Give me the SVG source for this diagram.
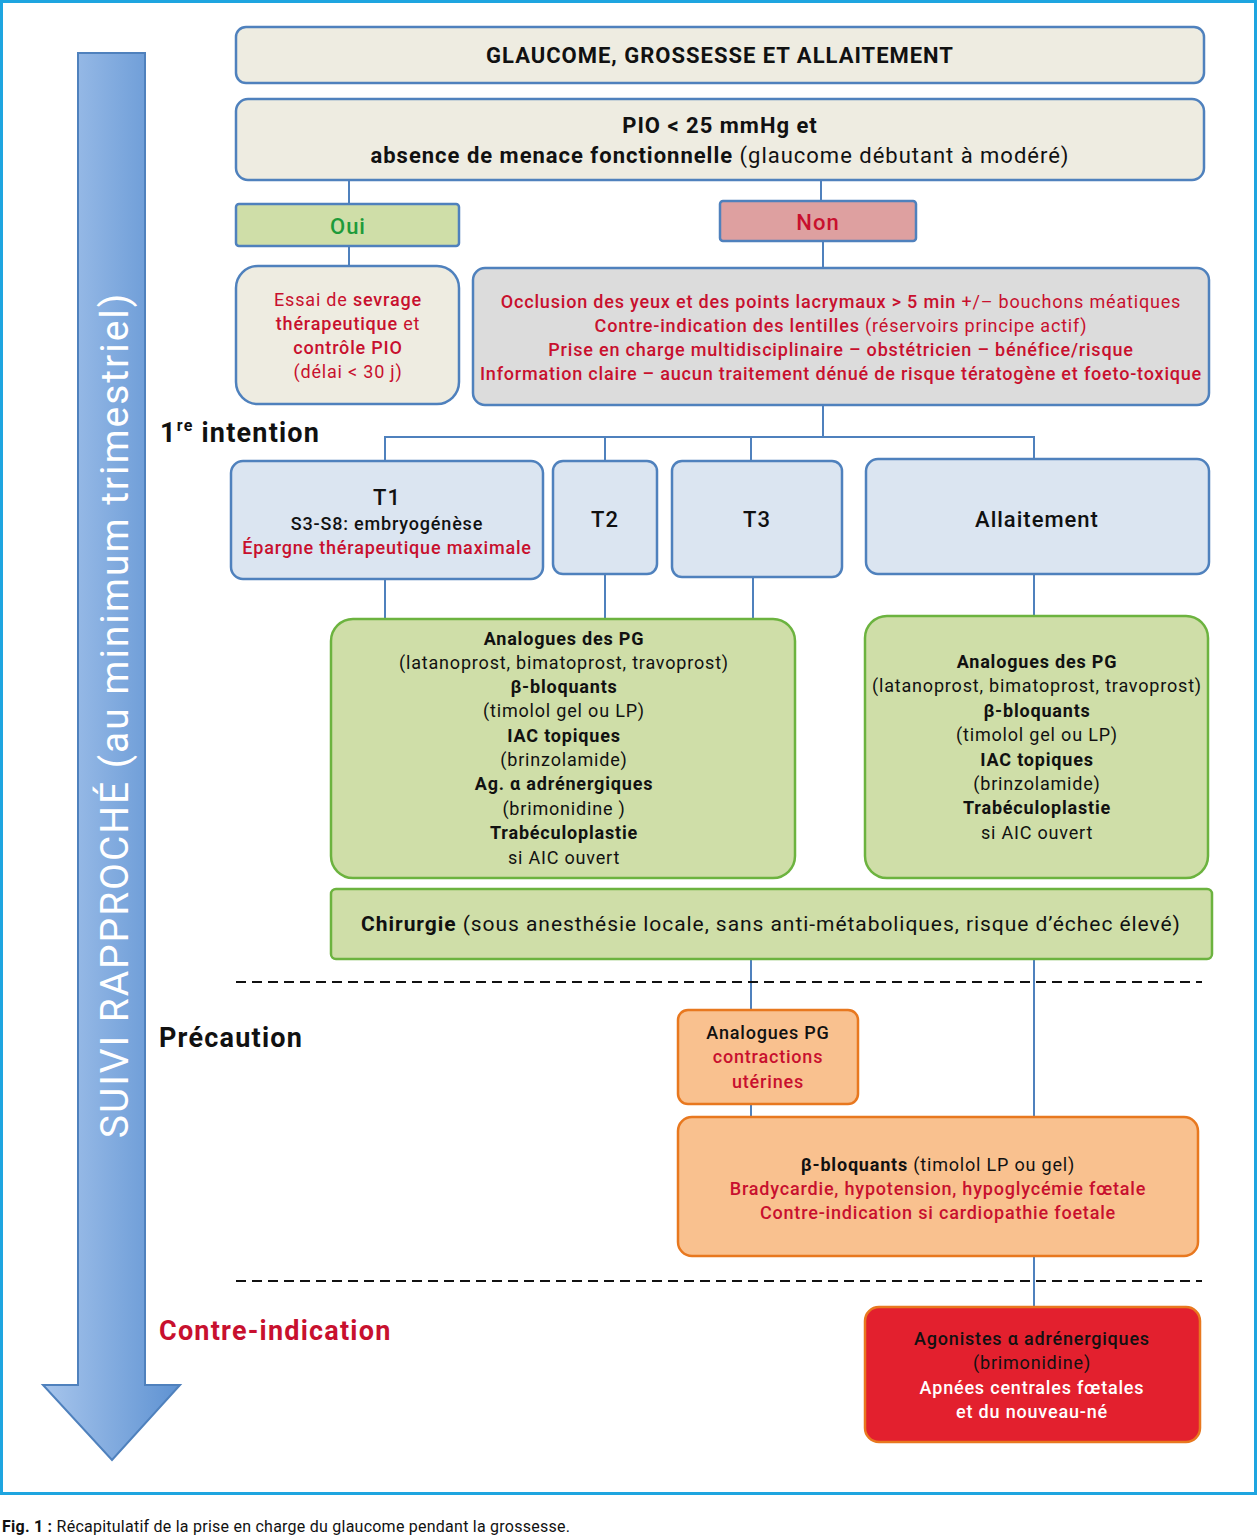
<svg xmlns="http://www.w3.org/2000/svg" width="1258" height="1536" viewBox="0 0 1258 1536">
<defs>
<linearGradient id="arrowGrad" x1="0" y1="0" x2="1" y2="0">
<stop offset="0" stop-color="#a7c5ec"/>
<stop offset="1" stop-color="#5e92d2"/>
</linearGradient>
<style>
text{font-family:Roboto,"Liberation Sans",sans-serif;text-anchor:middle;letter-spacing:0.045em;}
.b{font-weight:700;}
.m{font-weight:500;}
.r{fill:#c8102e;}
.k{fill:#111;}
.w{fill:#fff;}
.beige{fill:#eeece1;stroke:#4f81bd;stroke-width:2.5;}
.blue{fill:#dbe5f1;stroke:#4f81bd;stroke-width:2.5;}
.grey{fill:#dcdcdc;stroke:#4f81bd;stroke-width:2.5;}
.green{fill:#cfdea8;stroke:#6cb33f;stroke-width:2.5;}
.orange{fill:#f9c18f;stroke:#e8781f;stroke-width:2.5;}
.conn line{stroke:#4f81bd;stroke-width:2;}
.dash{stroke:#111;stroke-width:2;stroke-dasharray:10,6;}
.t18{font-size:18px;}
.lbl{font-size:27px;font-weight:700;text-anchor:start;}
</style>
</defs>
<rect x="0" y="0" width="1258" height="1536" fill="#fff"/>
<rect id="frame" x="1.5" y="1.5" width="1254" height="1492" fill="none" stroke="#1ea5e0" stroke-width="3"/>

<g id="arrow">
<path d="M78,53 H145 V1385 H180 L112,1460 L43,1385 H78 Z" fill="url(#arrowGrad)" stroke="#4f81bd" stroke-width="2"/>
<text transform="translate(128,715) rotate(-90)" class="w" style="font-size:39px;letter-spacing:0.05em">SUIVI RAPPROCHÉ (au minimum trimestriel)</text>
</g>

<g class="conn" id="connectors">
<line x1="349" y1="180" x2="349" y2="204"/>
<line x1="821" y1="180" x2="821" y2="201"/>
<line x1="349" y1="246" x2="349" y2="266"/>
<line x1="823" y1="241" x2="823" y2="268"/>
<line x1="823" y1="405" x2="823" y2="437"/>
<line x1="384" y1="437" x2="1035" y2="437"/>
<line x1="385" y1="437" x2="385" y2="461"/>
<line x1="605" y1="437" x2="605" y2="461"/>
<line x1="751" y1="437" x2="751" y2="461"/>
<line x1="1034" y1="437" x2="1034" y2="459"/>
<line x1="385" y1="579" x2="385" y2="619"/>
<line x1="605" y1="574" x2="605" y2="619"/>
<line x1="753" y1="577" x2="753" y2="619"/>
<line x1="1034" y1="574" x2="1034" y2="616"/>
<line x1="751" y1="959" x2="751" y2="1010"/>
<line x1="751" y1="1104" x2="751" y2="1117"/>
<line x1="1034" y1="959" x2="1034" y2="1117"/>
<line x1="1034" y1="1256" x2="1034" y2="1307"/>
</g>

<g id="dashes">
<line class="dash" x1="236" y1="982" x2="1202" y2="982"/>
<line class="dash" x1="236" y1="1281" x2="1202" y2="1281"/>
</g>

<g id="title">
<rect class="beige" x="236" y="27" width="968" height="56" rx="10"/>
<text x="720" y="63" class="b k" style="font-size:22px">GLAUCOME, GROSSESSE ET ALLAITEMENT</text>
</g>

<g id="pio">
<rect class="beige" x="236" y="99" width="968" height="81" rx="12"/>
<text x="720" y="133" class="b k" style="font-size:22px">PIO &lt; 25 mmHg et</text>
<text x="720" y="163" class="k" style="font-size:22px"><tspan class="b">absence de menace fonctionnelle</tspan> (glaucome débutant à modéré)</text>
</g>

<g id="oui">
<rect x="236" y="204" width="223" height="42" rx="3" fill="#cfdea8" stroke="#4f81bd" stroke-width="2.5"/>
<text x="348" y="234" class="m" style="font-size:22px;fill:#1e9b3a">Oui</text>
</g>

<g id="non">
<rect x="720" y="201" width="196" height="40" rx="3" fill="#dea0a0" stroke="#4f81bd" stroke-width="2.5"/>
<text x="818" y="230" class="m r" style="font-size:22px">Non</text>
</g>

<g id="essai">
<rect class="beige" x="236" y="266" width="223" height="138" rx="22"/>
<text x="348" y="306" class="t18 r">Essai de <tspan class="m">sevrage</tspan></text>
<text x="348" y="330" class="t18 r"><tspan class="m">thérapeutique</tspan> et</text>
<text x="348" y="354" class="t18 r m">contrôle PIO</text>
<text x="348" y="378" class="t18 r">(délai &lt; 30 j)</text>
</g>

<g id="occlusion">
<rect class="grey" x="473" y="268" width="736" height="137" rx="12"/>
<text x="841" y="308" class="t18 r"><tspan class="m">Occlusion des yeux et des points lacrymaux &gt; 5 min</tspan> +/– bouchons méatiques</text>
<text x="841" y="332" class="t18 r"><tspan class="m">Contre-indication des lentilles</tspan> (réservoirs principe actif)</text>
<text x="841" y="356" class="t18 r m">Prise en charge multidisciplinaire – obstétricien – bénéfice/risque</text>
<text x="841" y="380" class="t18 r m">Information claire – aucun traitement dénué de risque tératogène et foeto-toxique</text>
</g>

<g id="labels">
<text x="160" y="442" class="lbl k">1<tspan style="font-size:16px" dy="-11">re</tspan><tspan dy="11"> intention</tspan></text>
<text x="159" y="1047" class="lbl k">Précaution</text>
<text x="159" y="1340" class="lbl r">Contre-indication</text>
</g>

<g id="t1">
<rect class="blue" x="231" y="461" width="312" height="118" rx="12"/>
<text x="387" y="505" class="m k" style="font-size:22px">T1</text>
<text x="387" y="530" class="t18 k m">S3-S8: embryogénèse</text>
<text x="387" y="554" class="t18 r m">Épargne thérapeutique maximale</text>
</g>
<g id="t2">
<rect class="blue" x="553" y="461" width="104" height="113" rx="10"/>
<text x="605" y="527" class="m k" style="font-size:22px">T2</text>
</g>
<g id="t3">
<rect class="blue" x="672" y="461" width="170" height="116" rx="10"/>
<text x="757" y="527" class="m k" style="font-size:22px">T3</text>
</g>
<g id="allaitement">
<rect class="blue" x="866" y="459" width="343" height="115" rx="12"/>
<text x="1037" y="527" class="m k" style="font-size:22px">Allaitement</text>
</g>

<g id="green1">
<rect class="green" x="331" y="619" width="464" height="259" rx="22"/>
<text x="564" y="645" class="t18 k b">Analogues des PG</text>
<text x="564" y="669" class="t18 k">(latanoprost, bimatoprost, travoprost)</text>
<text x="564" y="693" class="t18 k b">β-bloquants</text>
<text x="564" y="717" class="t18 k">(timolol gel ou LP)</text>
<text x="564" y="742" class="t18 k b">IAC topiques</text>
<text x="564" y="766" class="t18 k">(brinzolamide)</text>
<text x="564" y="790" class="t18 k b">Ag. α adrénergiques</text>
<text x="564" y="815" class="t18 k">(brimonidine )</text>
<text x="564" y="839" class="t18 k b">Trabéculoplastie</text>
<text x="564" y="864" class="t18 k">si AIC ouvert</text>
</g>

<g id="green2">
<rect class="green" x="865" y="616" width="343" height="262" rx="22"/>
<text x="1037" y="668" class="t18 k b">Analogues des PG</text>
<text x="1037" y="692" class="t18 k">(latanoprost, bimatoprost, travoprost)</text>
<text x="1037" y="717" class="t18 k b">β-bloquants</text>
<text x="1037" y="741" class="t18 k">(timolol gel ou LP)</text>
<text x="1037" y="766" class="t18 k b">IAC topiques</text>
<text x="1037" y="790" class="t18 k">(brinzolamide)</text>
<text x="1037" y="814" class="t18 k b">Trabéculoplastie</text>
<text x="1037" y="839" class="t18 k">si AIC ouvert</text>
</g>

<g id="chirurgie">
<rect class="green" x="331" y="889" width="881" height="70" rx="5"/>
<text x="771" y="931" class="k" style="font-size:21px"><tspan class="b">Chirurgie</tspan> (sous anesthésie locale, sans anti-métaboliques, risque d’échec élevé)</text>
</g>

<g id="orange1">
<rect class="orange" x="678" y="1010" width="180" height="94" rx="10"/>
<text x="768" y="1039" class="t18 k m">Analogues PG</text>
<text x="768" y="1063" class="t18 r m">contractions</text>
<text x="768" y="1088" class="t18 r m">utérines</text>
</g>

<g id="orange2">
<rect class="orange" x="678" y="1117" width="520" height="139" rx="14"/>
<text x="938" y="1171" class="t18 k"><tspan class="b">β-bloquants</tspan> (timolol LP ou gel)</text>
<text x="938" y="1195" class="t18 r m">Bradycardie, hypotension, hypoglycémie fœtale</text>
<text x="938" y="1219" class="t18 r m">Contre-indication si cardiopathie foetale</text>
</g>

<g id="redbox">
<rect x="865" y="1307" width="335" height="135" rx="14" fill="#e3202e" stroke="#e8781f" stroke-width="2.5"/>
<text x="1032" y="1345" class="t18 k m">Agonistes α adrénergiques</text>
<text x="1032" y="1369" class="t18 k">(brimonidine)</text>
<text x="1032" y="1394" class="t18 w m">Apnées centrales fœtales</text>
<text x="1032" y="1418" class="t18 w m">et du nouveau-né</text>
</g>

<g id="caption">
<text x="2" y="1532" class="k" style="font-size:16px;text-anchor:start;letter-spacing:0.015em"><tspan class="b">Fig. 1 :</tspan> Récapitulatif de la prise en charge du glaucome pendant la grossesse.</text>
</g>
</svg>
